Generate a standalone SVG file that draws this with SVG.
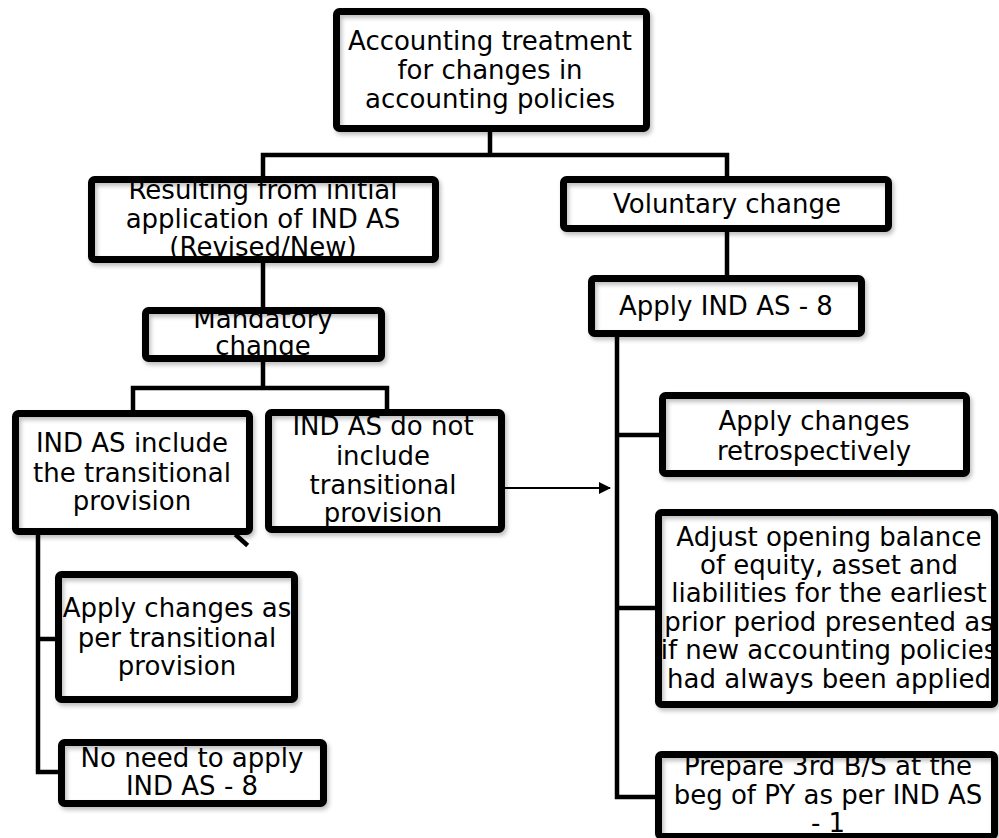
<svg xmlns="http://www.w3.org/2000/svg" width="999" height="838" viewBox="0 0 999 838">
<defs>
<filter id="sh" x="-10%" y="-10%" width="130%" height="130%">
<feDropShadow dx="2" dy="3" stdDeviation="2" flood-color="#000" flood-opacity="0.25"/>
</filter>
<marker id="arr" markerWidth="12" markerHeight="12" refX="11" refY="6" orient="auto" markerUnits="userSpaceOnUse">
<path d="M0,0 L12,6 L0,12 Z" fill="#000"/>
</marker>
</defs>
<style>
.bg{fill:#fff;stroke:none}
.bd{fill:none;stroke:#000;stroke-width:7;filter:url(#sh)}
.t{font-family:"DejaVu Sans",Verdana,sans-serif;font-size:26px;fill:#000;text-anchor:middle}
.c{fill:none;stroke:#000;stroke-width:4.5;stroke-linecap:square}
</style>
<rect width="999" height="838" fill="#fff"/>
<g id="connectors">
<path class="c" d="M490,132 V155 M263,155 H727 M263,155 V176 M727,155 V176"/>
<path class="c" d="M263,263 V307"/>
<path class="c" d="M263,362 V388 M133,388 H387 M133,388 V410 M387,388 V409"/>
<path class="c" d="M727,232 V275"/>
<path class="c" d="M617,337 V797 M617,435 H659 M617,608 H655 M617,797 H655"/>
<path class="c" d="M38,535 V772 M38,639 H55 M38,772 H58"/>
<path class="c" d="M237,536 L246,544" stroke-width="5"/>
<line x1="505" y1="488" x2="610" y2="488" stroke="#000" stroke-width="2" marker-end="url(#arr)"/>
</g>
<g id="n_root">
<rect class="bg" x="336.5" y="11.5" width="310" height="117"/>
<text class="t" x="490" y="50">Accounting treatment</text>
<text class="t" x="490" y="79">for changes in</text>
<text class="t" x="490" y="108">accounting policies</text>
<rect class="bd" x="336.5" y="11.5" width="310" height="117" rx="3"/>
</g>
<g id="n_initial">
<rect class="bg" x="91.5" y="179.5" width="344" height="80"/>
<text class="t" x="263" y="199">Resulting from initial</text>
<text class="t" x="263" y="228">application of IND AS</text>
<text class="t" x="263" y="256">(Revised/New)</text>
<rect class="bd" x="91.5" y="179.5" width="344" height="80" rx="3"/>
</g>
<g id="n_mandatory">
<rect class="bg" x="145.5" y="310.5" width="236" height="48"/>
<text class="t" x="263" y="328">Mandatory</text>
<text class="t" x="263" y="355">change</text>
<rect class="bd" x="145.5" y="310.5" width="236" height="48" rx="3"/>
</g>
<g id="n_include">
<rect class="bg" x="15.5" y="413.5" width="234" height="118"/>
<text class="t" x="132" y="452">IND AS include</text>
<text class="t" x="132" y="482">the transitional</text>
<text class="t" x="132" y="510">provision</text>
<rect class="bd" x="15.5" y="413.5" width="234" height="118" rx="3"/>
</g>
<g id="n_notinclude">
<rect class="bg" x="268.5" y="412.5" width="233" height="117"/>
<text class="t" x="383" y="435">IND AS do not</text>
<text class="t" x="383" y="465">include</text>
<text class="t" x="383" y="494">transitional</text>
<text class="t" x="383" y="522">provision</text>
<rect class="bd" x="268.5" y="412.5" width="233" height="117" rx="3"/>
</g>
<g id="n_voluntary">
<rect class="bg" x="563.5" y="179.5" width="325" height="49"/>
<text class="t" x="727" y="213">Voluntary change</text>
<rect class="bd" x="563.5" y="179.5" width="325" height="49" rx="3"/>
</g>
<g id="n_apply8">
<rect class="bg" x="591.5" y="278.5" width="270" height="55"/>
<text class="t" x="726" y="315">Apply IND AS - 8</text>
<rect class="bd" x="591.5" y="278.5" width="270" height="55" rx="3"/>
</g>
<g id="n_retro">
<rect class="bg" x="662.5" y="395.5" width="304" height="78"/>
<text class="t" x="814" y="430">Apply changes</text>
<text class="t" x="814" y="460">retrospectively</text>
<rect class="bd" x="662.5" y="395.5" width="304" height="78" rx="3"/>
</g>
<g id="n_adjust">
<rect class="bg" x="658.5" y="512.5" width="336" height="192"/>
<text class="t" x="829" y="546">Adjust opening balance</text>
<text class="t" x="829" y="574">of equity, asset and</text>
<text class="t" x="829" y="602">liabilities for the earliest</text>
<text class="t" x="829" y="631">prior period presented as</text>
<text class="t" x="829" y="659">if new accounting policies</text>
<text class="t" x="829" y="688">had always been applied</text>
<rect class="bd" x="658.5" y="512.5" width="336" height="192" rx="3"/>
</g>
<g id="n_prepare">
<rect class="bg" x="658.5" y="754.5" width="336" height="82"/>
<text class="t" x="828" y="775">Prepare 3rd B/S at the</text>
<text class="t" x="828" y="804">beg of PY as per IND AS</text>
<text class="t" x="828" y="832">- 1</text>
<rect class="bd" x="658.5" y="754.5" width="336" height="82" rx="3"/>
</g>
<g id="n_transitional">
<rect class="bg" x="58.5" y="574.5" width="236" height="125"/>
<text class="t" x="177" y="617">Apply changes as</text>
<text class="t" x="177" y="647">per transitional</text>
<text class="t" x="177" y="675">provision</text>
<rect class="bd" x="58.5" y="574.5" width="236" height="125" rx="3"/>
</g>
<g id="n_noneed">
<rect class="bg" x="61.5" y="742.5" width="262" height="61"/>
<text class="t" x="192" y="767">No need to apply</text>
<text class="t" x="192" y="795">IND AS - 8</text>
<rect class="bd" x="61.5" y="742.5" width="262" height="61" rx="3"/>
</g>
</svg>
